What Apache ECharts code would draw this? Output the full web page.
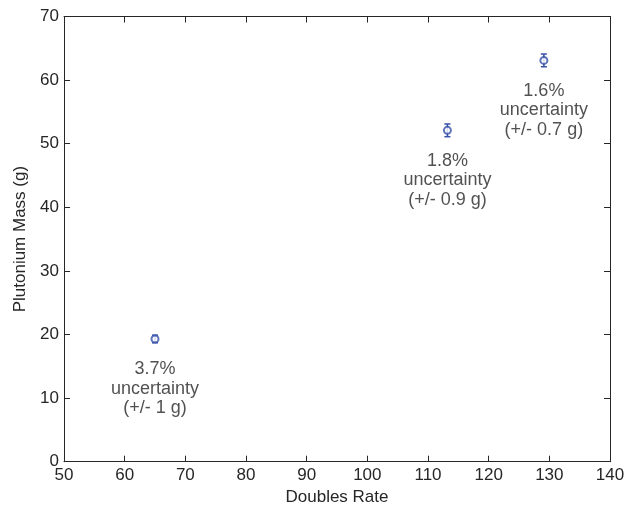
<!DOCTYPE html>
<html>
<head>
<meta charset="utf-8">
<script src="https://cdn.jsdelivr.net/npm/echarts@6/dist/echarts.min.js"></script>
<style>
html,body{margin:0;padding:0;background:#fff;overflow:hidden;}
#c{width:626px;height:506px;}
</style>
</head>
<body>
<div id="c"></div>
<script>
var doublesRate = [65.0, 113.2, 129.1];
var plutoniumMass = [19.3, 52.1, 63.1];
var errorHalf = [0.6, 1.0, 1.0];
var pointLabels = [
  "3.7%\nuncertainty\n(+/- 1 g)",
  "1.8%\nuncertainty\n(+/- 0.9 g)",
  "1.6%\nuncertainty\n(+/- 0.7 g)"
];
var xTicks = [50, 60, 70, 80, 90, 100, 110, 120, 130, 140];
var yTicks = [0, 10, 20, 30, 40, 50, 60, 70];

var FONT = "'Liberation Sans', Arial, sans-serif";
var TXT = "#262626";
var BLUE = "#3650a8";

var chart = echarts.init(document.getElementById('c'), null, {renderer: 'canvas'});

var scatterData = doublesRate.map(function (x, i) { return [x, plutoniumMass[i]]; });
var errData = doublesRate.map(function (x, i) {
  return [x, plutoniumMass[i] - errorHalf[i], plutoniumMass[i] + errorHalf[i]];
});

function axisCommon(showLabel, margin) {
  return {
    axisLine: {show: true, onZero: false, lineStyle: {color: TXT, width: 1}},
    axisTick: {show: true, inside: true, length: 6, lineStyle: {color: TXT, width: 1}},
    axisLabel: {show: showLabel, color: TXT, fontSize: 17, fontFamily: FONT, margin: margin || 6},
    splitLine: {show: false}
  };
}

var option = {
  backgroundColor: '#ffffff',
  animation: false,
  grid: {left: 64, right: 16, top: 16.5, bottom: 44.3, containLabel: false, outerBoundsMode: 'none'},
  xAxis: [
    Object.assign({
      type: 'value', min: xTicks[0], max: xTicks[xTicks.length - 1], interval: 10,
      position: 'bottom',
      name: 'Doubles Rate', nameLocation: 'middle', nameGap: 26,
      nameTextStyle: {color: TXT, fontSize: 17, fontFamily: FONT}
    }, axisCommon(true, 5)),
    Object.assign({
      type: 'value', min: xTicks[0], max: xTicks[xTicks.length - 1], interval: 10,
      position: 'top'
    }, axisCommon(false))
  ],
  yAxis: [
    Object.assign({
      type: 'value', min: yTicks[0], max: yTicks[yTicks.length - 1], interval: 10,
      position: 'left',
      name: 'Plutonium Mass (g)', nameLocation: 'middle', nameGap: 34,
      nameTextStyle: {color: TXT, fontSize: 17, fontFamily: FONT}
    }, axisCommon(true, 5)),
    Object.assign({
      type: 'value', min: yTicks[0], max: yTicks[yTicks.length - 1], interval: 10,
      position: 'right'
    }, axisCommon(false))
  ],
  series: [
    {
      type: 'custom',
      xAxisIndex: 0, yAxisIndex: 0,
      data: errData,
      z: 3,
      renderItem: function (params, api) {
        var x = api.value(0);
        var lo = api.coord([x, api.value(1)]);
        var hi = api.coord([x, api.value(2)]);
        var w = 3;
        var st = {stroke: BLUE, lineWidth: 1.5, fill: 'none'};
        return {
          type: 'group',
          children: [
            {type: 'line', shape: {x1: lo[0], y1: lo[1], x2: hi[0], y2: hi[1]}, style: st},
            {type: 'line', shape: {x1: lo[0] - w, y1: lo[1], x2: lo[0] + w, y2: lo[1]}, style: st},
            {type: 'line', shape: {x1: hi[0] - w, y1: hi[1], x2: hi[0] + w, y2: hi[1]}, style: st}
          ]
        };
      }
    },
    {
      type: 'scatter',
      xAxisIndex: 0, yAxisIndex: 0,
      data: scatterData,
      symbol: 'emptyCircle',
      symbolSize: 7,
      z: 4,
      itemStyle: {color: BLUE, borderColor: BLUE, borderWidth: 1.8},
      label: {
        show: true,
        position: 'bottom',
        distance: 16,
        color: TXT,
        fontSize: 18,
        fontFamily: FONT,
        lineHeight: 19.5,
        align: 'center',
        formatter: function (p) { return pointLabels[p.dataIndex]; }
      }
    }
  ]
};
chart.setOption(option);
</script>
</body>
</html>
